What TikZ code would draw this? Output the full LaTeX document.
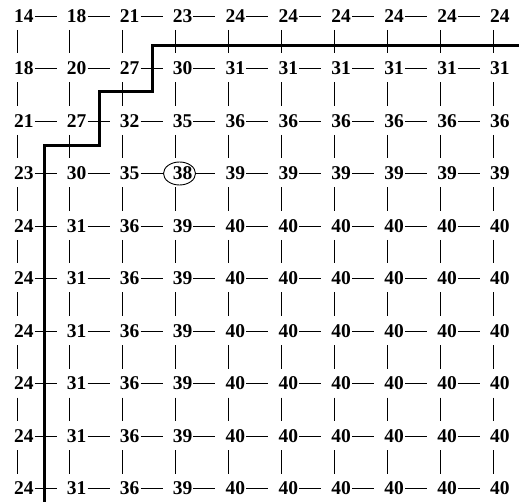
\documentclass[tikz,border=0pt]{standalone}
\usepackage{fontspec}
\setmainfont{Liberation Serif}
\usetikzlibrary{shapes.geometric}
\begin{document}
\begin{tikzpicture}[x=1pt,y=1pt,
  num/.style={inner sep=0pt,font=\fontsize{19.5}{21}\selectfont\bfseries},
  hline/.style={line width=0.9pt},
  vline/.style={line width=0.9pt},
  bound/.style={line width=3pt},
  ring/.style={draw,ellipse,line width=0.9pt,inner sep=0pt,minimum width=32pt,minimum height=23pt}]
\useasboundingbox (0,0) rectangle (519,-502);
% numbers
\foreach \r/\vals in {0/{14,18,21,23,24,24,24,24,24,24},
                      1/{18,20,27,30,31,31,31,31,31,31},
                      2/{21,27,32,35,36,36,36,36,36,36},
                      3/{23,30,35,38,39,39,39,39,39,39},
                      4/{24,31,36,39,40,40,40,40,40,40},
                      5/{24,31,36,39,40,40,40,40,40,40},
                      6/{24,31,36,39,40,40,40,40,40,40},
                      7/{24,31,36,39,40,40,40,40,40,40},
                      8/{24,31,36,39,40,40,40,40,40,40},
                      9/{24,31,36,39,40,40,40,40,40,40}}{
  \foreach \v [count=\c from 0] in \vals{
    \node[num] (n-\r-\c) at ({23.8+52.9*\c},{-16-52.5*\r}) {\v};
  }
}
\node[ring] (ring) at ([xshift=-3pt]n-3-3.center) {};
% horizontal connectors
\foreach \r in {0,...,9}{
  \foreach \c [evaluate=\c as \d using int(\c+1)] in {0,...,8}{
    \pgfmathtruncatemacro\skp{(\r==3 && (\c==2 || \c==3)) ? 1 : 0}
    \ifnum\skp=0
      \draw[hline] ([xshift=1pt]n-\r-\c.east) -- ([xshift=-10pt]n-\r-\d.west);
    \fi
  }
}
\draw[hline] ([xshift=1pt]n-3-2.east) -- (ring.west);
\draw[hline] (ring.east) -- ([xshift=-10pt]n-3-4.west);
% vertical connectors
\foreach \r [evaluate=\r as \s using int(\r+1)] in {0,...,8}{
  \foreach \c in {0,...,9}{
    \draw[vline] ([shift={(-6.8pt,-14pt)}]n-\r-\c.center) -- ([shift={(-6.8pt,15pt)}]n-\s-\c.center);
  }
}
% boundary
\coordinate (b0) at (519,-46);
\coordinate (b6) at (44,-502);
\draw[bound] (b0) -- (152,-46) -- (152,-92) -- (99,-92) -- (99,-146) -- (44,-146) -- (b6);
\end{tikzpicture}
\end{document}
